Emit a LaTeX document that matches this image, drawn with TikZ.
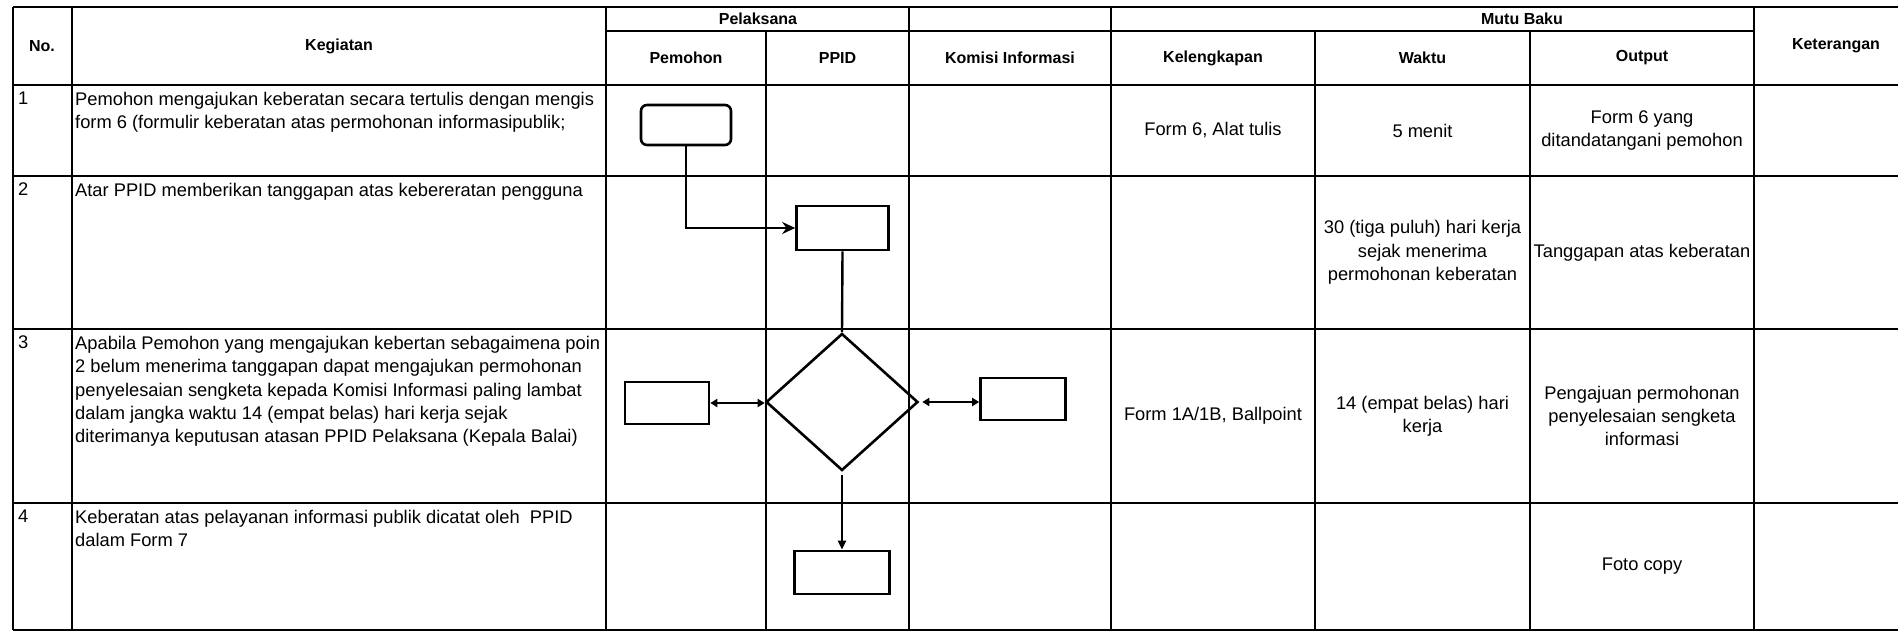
\documentclass[tikz,border=0pt]{standalone}
\usepackage{fontspec}
\setmainfont{Liberation Sans}
\usetikzlibrary{shapes.geometric,arrows.meta}
\begin{document}
\begin{tikzpicture}[x=1pt,y=-1pt,
  grid/.style={line width=1.6pt,black},
  hdr/.style={font=\fontsize{16}{19}\selectfont\bfseries,inner sep=0,align=center},
  body/.style={font=\fontsize{18.3}{23.3}\selectfont,inner sep=0,align=left,anchor=north west},
  cell/.style={font=\fontsize{18.3}{23.3}\selectfont,inner sep=0,align=center},
  fbox/.style={draw,line width=2.6pt,inner sep=0},
  conn/.style={line width=2.4pt},
  bigtip/.tip={Stealth[length=13pt,width=12pt]},
  smalltip/.tip={Triangle[length=7pt,width=8pt]},
  downtip/.tip={Triangle[length=9pt,width=8pt]}
]
\useasboundingbox (0,0) rectangle (1898,633);
\fill[white] (0,0) rectangle (1898,633);

% ---- table grid ----
\foreach \yy in {7,85,176,329,503,630}
  \draw[grid] (13,\yy) -- (1898,\yy);
\draw[grid] (606,31) -- (1754,31);
\foreach \xx in {13,72,606,909,1111,1754}
  \draw[grid] (\xx,7) -- (\xx,630);
\foreach \xx in {766,1315,1530}
  \draw[grid] (\xx,31) -- (\xx,630);

% ---- headers ----
\node[hdr] (hno) at (42,46) {No.};
\node[hdr] (hkeg) at (339,46) {Kegiatan};
\node[hdr] (hpel) at (758,19) {Pelaksana};
\node[hdr] (hmutu) at (1522,19) {Mutu Baku};
\node[hdr] (hpem) at (686,58) {Pemohon};
\node[hdr] (hppid) at (837.5,58) {PPID};
\node[hdr] (hkom) at (1010,58) {Komisi Informasi};
\node[hdr] (hkel) at (1213,58) {Kelengkapan};
\node[hdr] (hwak) at (1422.5,58) {Waktu};
\node[hdr] (hout) at (1642,58) {Output};
\node[hdr] (hket) at (1836,46) {Keterangan};

% ---- numbers ----
\node[body] (no1) at (18,92) {1};
\node[body] (no2) at (18,183) {2};
\node[body] (no3) at (18,336) {3};
\node[body] (no4) at (18,510) {4};

% ---- kegiatan ----
\node[body] (k1) at (75,92) {Pemohon mengajukan keberatan secara tertulis dengan mengis\\form 6 (formulir keberatan atas permohonan informasipublik;};
\node[body] (k2) at (75,183) {Atar PPID memberikan tanggapan atas kebereratan pengguna};
\node[body] (k3) at (75,336) {Apabila Pemohon yang mengajukan kebertan sebagaimena poin\\2 belum menerima tanggapan dapat mengajukan permohonan\\penyelesaian sengketa kepada Komisi Informasi paling lambat\\dalam jangka waktu 14 (empat belas) hari kerja sejak\\diterimanya keputusan atasan PPID Pelaksana (Kepala Balai)};
\node[body] (k4) at (75,510) {Keberatan atas pelayanan informasi publik dicatat oleh~ PPID\\dalam Form 7};

% ---- mutu baku cells ----
\node[cell] (c1k) at (1213,130.5) {Form 6, Alat tulis};
\node[cell] (c1w) at (1422.5,130.5) {5 menit};
\node[cell] (c1o) at (1642,130.5) {Form 6 yang\\ditandatangani pemohon};
\node[cell] (c2w) at (1422.5,252.5) {30 (tiga puluh) hari kerja\\sejak menerima\\permohonan keberatan};
\node[cell] (c2o) at (1642,252.5) {Tanggapan atas keberatan};
\node[cell] (c3k) at (1213,416) {Form 1A/1B, Ballpoint};
\node[cell] (c3w) at (1422.5,416) {14 (empat belas) hari\\kerja};
\node[cell] (c3o) at (1642,416) {Pengajuan permohonan\\penyelesaian sengketa\\informasi};
\node[cell] (c4o) at (1642,566.5) {Foto copy};

% ---- flowchart ----
\node[fbox,rounded corners=6pt,minimum width=90pt,minimum height=40pt] (n1) at (686,125) {};
\node[fbox,minimum width=92pt,minimum height=44pt] (n2) at (842.5,228) {};
\node[fbox,diamond,minimum width=152pt,minimum height=137pt] (dia) at (842,402) {};
\node[fbox,minimum width=84pt,minimum height=42pt] (n3l) at (667,403) {};
\node[fbox,minimum width=85pt,minimum height=42pt] (n3r) at (1023,399) {};
\node[fbox,minimum width=95pt,minimum height=43pt] (n4) at (842,572.5) {};

\draw[conn,-bigtip] (n1.south) |- (n2.west);
\draw[conn] (n2.south) -- (dia.north);
\draw[conn,smalltip-smalltip] (n3l.east) -- (n3l.east -| dia.west);
\draw[conn,smalltip-smalltip,shorten <=3pt] (dia.east) -- (dia.east -| n3r.west);
\draw[conn,-downtip,shorten <=3pt] (dia.south) -- (n4.north);
\end{tikzpicture}
\end{document}
